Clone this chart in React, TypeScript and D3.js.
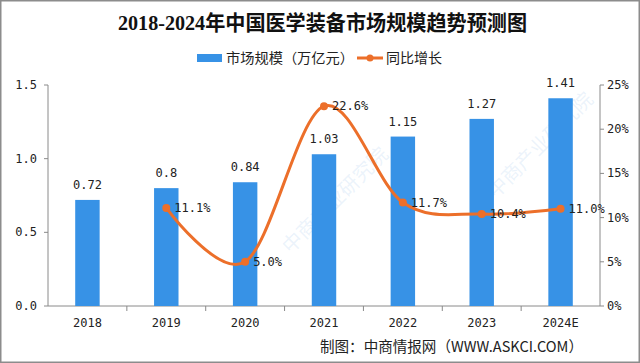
import React, { useEffect, useRef } from 'react';
import * as d3 from 'd3';

const years = ['2018', '2019', '2020', '2021', '2022', '2023', '2024E'];
const marketSize = [0.72, 0.8, 0.84, 1.03, 1.15, 1.27, 1.41];
const growth: (number | null)[] = [null, 11.1, 5.0, 22.6, 11.7, 10.4, 11.0];
const leftTicks = [0, 0.5, 1.0, 1.5];
const rightTicks = [0, 5, 10, 15, 20, 25];

const W = 640;
const H = 363;
const BLUE = '#3792E6';
const ORANGE = '#EC6F2A';
const MONO = '"DejaVu Sans Mono", "Liberation Mono", monospace';
const CJK = '"Noto Sans CJK SC", "Noto Sans", sans-serif';

const App: React.FC = () => {
  const svgRef = useRef<SVGSVGElement>(null);

  useEffect(() => {
    if (!svgRef.current) return;
    const svg = d3.select(svgRef.current);
    svg.selectAll('*').remove();

    const left = 48;
    const right = 600;
    const top = 85;
    const bottom = 306;

    const x = d3.scaleBand<string>().domain(years).range([left, right]).paddingInner(0.69).paddingOuter(0.345);
    const y = d3.scaleLinear().domain([0, 1.5]).range([bottom, top]);
    const y2 = d3.scaleLinear().domain([0, 25]).range([bottom, top]);
    const cx = (d: string) => (x(d) ?? 0) + x.bandwidth() / 2;
    const step = x.step();

    svg.append('rect').attr('width', W).attr('height', H).attr('fill', '#fff');

    // faint watermarks
    const wm = [[340, 205], [545, 150]];
    wm.forEach(([wx, wy]) => {
      svg.append('text')
        .attr('transform', `translate(${wx},${wy}) rotate(-45)`)
        .attr('text-anchor', 'middle')
        .style('font', `20px ${CJK}`)
        .attr('fill', '#9cc4ea')
        .attr('fill-opacity', 0.2)
        .text('中商产业研究院');
    });

    // title
    svg.append('text')
      .attr('x', 118).attr('y', 30)
      .attr('textLength', 409).attr('lengthAdjust', 'spacingAndGlyphs')
      .style('font', `bold 21px "Liberation Serif", "DejaVu Serif", ${CJK}`)
      .attr('fill', '#111')
      .text('2018-2024年中国医学装备市场规模趋势预测图');

    // legend
    svg.append('rect').attr('x', 197).attr('y', 54).attr('width', 25).attr('height', 8).attr('fill', BLUE);
    svg.append('text').attr('x', 226).attr('y', 63).style('font', `14px ${CJK}`).attr('fill', '#222')
      .attr('textLength', 128).attr('lengthAdjust', 'spacingAndGlyphs')
      .text('市场规模（万亿元）');
    svg.append('line').attr('x1', 357).attr('x2', 383).attr('y1', 58).attr('y2', 58)
      .attr('stroke', ORANGE).attr('stroke-width', 3);
    svg.append('circle').attr('cx', 370).attr('cy', 58).attr('r', 3.5).attr('fill', ORANGE);
    svg.append('text').attr('x', 386).attr('y', 63).style('font', `14px ${CJK}`).attr('fill', '#222')
      .text('同比增长');

    // axes
    const axisColor = '#8a8a8a';
    svg.append('line').attr('x1', left).attr('x2', left).attr('y1', top).attr('y2', bottom).attr('stroke', axisColor);
    svg.append('line').attr('x1', right).attr('x2', right).attr('y1', top).attr('y2', bottom).attr('stroke', axisColor);
    svg.append('line').attr('x1', left).attr('x2', right).attr('y1', bottom).attr('y2', bottom).attr('stroke', axisColor);

    leftTicks.forEach(t => {
      svg.append('line').attr('x1', left - 4).attr('x2', left).attr('y1', y(t)).attr('y2', y(t)).attr('stroke', axisColor);
      svg.append('text').attr('x', 37).attr('y', y(t) + 4).attr('text-anchor', 'end')
        .style('font', `12px ${MONO}`).attr('fill', '#222').text(t.toFixed(1));
    });
    rightTicks.forEach(t => {
      svg.append('line').attr('x1', right).attr('x2', right + 4).attr('y1', y2(t)).attr('y2', y2(t)).attr('stroke', axisColor);
      svg.append('text').attr('x', 607).attr('y', y2(t) + 4)
        .style('font', `12px ${MONO}`).attr('fill', '#222').text(`${t}%`);
    });
    years.forEach((yr, i) => {
      const bx = left + step * i;
      if (i > 0) {
        svg.append('line').attr('x1', bx).attr('x2', bx).attr('y1', bottom).attr('y2', bottom + 5).attr('stroke', axisColor);
      }
      svg.append('text').attr('x', cx(yr)).attr('y', 327).attr('text-anchor', 'middle')
        .style('font', `12px ${MONO}`).attr('fill', '#222').text(yr);
    });

    // bars
    svg.append('g').selectAll('rect').data(years).join('rect')
      .attr('x', d => x(d) ?? 0)
      .attr('y', (_, i) => y(marketSize[i]))
      .attr('width', x.bandwidth())
      .attr('height', (_, i) => bottom - y(marketSize[i]))
      .attr('fill', BLUE);
    svg.append('g').selectAll('text').data(years).join('text')
      .attr('x', d => cx(d))
      .attr('y', (_, i) => y(marketSize[i]) - 11)
      .attr('text-anchor', 'middle')
      .style('font', `12px ${MONO}`).attr('fill', '#222')
      .text((_, i) => String(marketSize[i]));

    // growth line
    const pts = years.map((yr, i) => ({ yr, v: growth[i] })).filter(p => p.v !== null) as { yr: string; v: number }[];
    const line = d3.line<{ yr: string; v: number }>()
      .x(p => cx(p.yr)).y(p => y2(p.v))
      .curve(d3.curveCardinal.tension(0));
    svg.append('path').attr('d', line(pts) ?? '').attr('fill', 'none')
      .attr('stroke', ORANGE).attr('stroke-width', 3);
    svg.append('g').selectAll('circle').data(pts).join('circle')
      .attr('cx', p => cx(p.yr)).attr('cy', p => y2(p.v)).attr('r', 4).attr('fill', ORANGE);
    svg.append('g').selectAll('text').data(pts).join('text')
      .attr('x', p => cx(p.yr) + 8).attr('y', p => y2(p.v) + 4)
      .style('font', `12px ${MONO}`).attr('fill', '#222')
      .text(p => `${p.v.toFixed(1)}%`);

    // footer
    svg.append('text').attr('x', 320).attr('y', 352)
      .attr('textLength', 263).attr('lengthAdjust', 'spacingAndGlyphs')
      .style('font', `15px ${CJK}`).attr('fill', '#222')
      .text('制图：中商情报网（WWW.ASKCI.COM）');

    // frame
    svg.append('rect').attr('x', 0.75).attr('y', 0.75).attr('width', W - 1.5).attr('height', H - 1.5)
      .attr('fill', 'none').attr('stroke', '#8c8c8c').attr('stroke-width', 1.5);
  }, []);

  return (
    <svg ref={svgRef} width={W} height={H}
      style={{ position: 'absolute', left: 0, top: 0, display: 'block' }} />
  );
};

export default App;
